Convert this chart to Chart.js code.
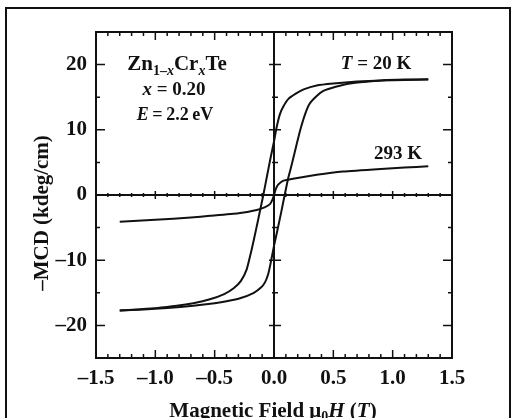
<!DOCTYPE html>
<html>
<head>
<meta charset="utf-8">
<script src="https://cdn.jsdelivr.net/npm/chart.js@4.4.1/dist/chart.umd.min.js"></script>
<style>
  html, body { margin: 0; padding: 0; background: #fff; }
  #wrap { width: 512px; height: 418px; position: relative; }
</style>
</head>
<body>
<div id="wrap"><canvas id="mcd"></canvas></div>
<script>
// 20 K loop, field sweeping down (upper branch)
const field20Down = [1.30, 1.10, 0.90, 0.70, 0.50, 0.36, 0.25, 0.18, 0.12, 0.08, 0.05, 0.02, 0.00, -0.03, -0.06, -0.09, -0.12, -0.15, -0.19, -0.23, -0.28, -0.34, -0.42, -0.54, -0.68, -0.82, -1.00, -1.15, -1.30];
const mcd20Down = [17.7, 17.65, 17.55, 17.4, 17.1, 16.8, 16.2, 15.5, 14.7, 13.6, 12.4, 10.2, 8.2, 5.6, 2.8, 0.0, -2.6, -5.2, -8.5, -11.4, -13.2, -14.3, -15.2, -16.0, -16.6, -17.0, -17.35, -17.55, -17.7];
// 20 K loop, field sweeping up (lower branch)
const field20Up = [-1.30, -1.10, -0.90, -0.68, -0.50, -0.40, -0.28, -0.17, -0.11, -0.076, -0.05, -0.03, 0.00, 0.03, 0.06, 0.09, 0.12, 0.15, 0.19, 0.22, 0.26, 0.30, 0.36, 0.42, 0.52, 0.64, 0.80, 0.92, 1.10, 1.30];
const mcd20Up = [-17.7, -17.55, -17.35, -17.0, -16.6, -16.3, -15.8, -15.0, -14.2, -13.4, -12.2, -10.6, -7.8, -5.3, -2.7, 0.0, 2.6, 4.7, 7.7, 9.9, 12.3, 14.0, 15.2, 16.0, 16.6, 17.1, 17.4, 17.6, 17.7, 17.75];
// 293 K
const field293 = [-1.30, -1.00, -0.70, -0.54, -0.30, -0.146, -0.08, -0.034, -0.015, 0.00, 0.015, 0.035, 0.08, 0.16, 0.36, 0.58, 0.90, 1.10, 1.30];
const mcd293 = [-4.1, -3.8, -3.45, -3.2, -2.8, -2.3, -1.9, -1.4, -0.8, 0.0, 0.9, 1.6, 2.2, 2.5, 3.1, 3.6, 4.0, 4.2, 4.4];

const xTicks = [-1.5, -1.0, -0.5, 0.0, 0.5, 1.0, 1.5];
const yTicks = [-20, -10, 0, 10, 20];

const FONT = "'Liberation Serif', 'Times New Roman', serif";

function pts(xs, ys) {
    return xs.map((x, i) => ({ x: x, y: ys[i] }));
}

function fmtX(v) {
    const s = Math.abs(v).toFixed(1);
    return v < 0 ? "\u2013" + s : s;
}
function fmtY(v) {
    return v < 0 ? "\u2013" + Math.abs(v) : String(v);
}

// draw a list of text runs on one baseline
function drawRuns(ctx, runs, x, y, align) {
    let w = 0;
    runs.forEach((r) => { ctx.font = r.font; w += ctx.measureText(r.t).width; });
    let cx = align === "center" ? x - w / 2 : x;
    ctx.textAlign = "left";
    ctx.textBaseline = "alphabetic";
    runs.forEach((r) => {
        ctx.font = r.font;
        ctx.fillText(r.t, cx, y + (r.dy || 0));
        cx += ctx.measureText(r.t).width;
    });
}

const framePlugin = {
    id: "frame",
    beforeDatasetsDraw(chart) {
        const { ctx, chartArea: a, scales: { x, y } } = chart;
        const x0 = x.getPixelForValue(0), y0 = y.getPixelForValue(0);
        ctx.save();
        ctx.strokeStyle = "#111";
        ctx.lineWidth = 2;
        ctx.beginPath();
        ctx.moveTo(a.left, y0); ctx.lineTo(a.right, y0);
        ctx.moveTo(x0, a.top); ctx.lineTo(x0, a.bottom);
        ctx.stroke();
        ctx.lineWidth = 1.5;
        ctx.beginPath();
        // ticks on the zero lines
        for (let i = -14; i <= 14; i++) {
            const px = x.getPixelForValue(i / 10);
            const len = i % 5 === 0 ? 4 : 2;
            ctx.moveTo(px, y0 - len); ctx.lineTo(px, y0 + len);
        }
        for (let v = -20; v <= 20; v += 5) {
            if (v === 0) continue;
            const py = y.getPixelForValue(v);
            const len = v % 10 === 0 ? 5 : 2;
            ctx.moveTo(x0 - len, py); ctx.lineTo(x0 + len + 2, py);
        }
        ctx.stroke();
        ctx.restore();
    },
    afterDatasetsDraw(chart) {
        const { ctx, chartArea: a, scales: { x, y } } = chart;
        ctx.save();
        ctx.strokeStyle = "#111";
        ctx.lineWidth = 2;
        ctx.strokeRect(a.left, a.top, a.right - a.left, a.bottom - a.top);
        // outer figure frame
        ctx.beginPath();
        ctx.moveTo(6, 420); ctx.lineTo(6, 8); ctx.lineTo(510, 8); ctx.lineTo(510, 420);
        ctx.stroke();
        ctx.lineWidth = 1.5;
        ctx.beginPath();
        for (let i = -14; i <= 14; i++) {
            const px = x.getPixelForValue(i / 10);
            const len = i % 5 === 0 ? 8 : 4;
            ctx.moveTo(px, a.bottom); ctx.lineTo(px, a.bottom - len);
            ctx.moveTo(px, a.top); ctx.lineTo(px, a.top + len);
        }
        for (let v = -20; v <= 20; v += 5) {
            const py = y.getPixelForValue(v);
            const len = v % 10 === 0 ? 9 : 4;
            ctx.moveTo(a.left, py); ctx.lineTo(a.left + len, py);
            ctx.moveTo(a.right, py); ctx.lineTo(a.right - len, py);
        }
        ctx.stroke();

        ctx.fillStyle = "#111";
        const b = (s) => "bold " + s + "px " + FONT;
        const bi = (s) => "italic bold " + s + "px " + FONT;
        // axis titles
        drawRuns(ctx, [
            { t: "Magnetic Field ", font: b(21) },
            { t: "\u03bc", font: b(21) },
            { t: "0", font: b(14), dy: 4 },
            { t: "H", font: bi(21) },
            { t: " (", font: b(21) },
            { t: "T", font: bi(21) },
            { t: ")", font: b(21) },
        ], 273, 417, "center");
        ctx.save();
        ctx.translate(48, 213);
        ctx.rotate(-Math.PI / 2);
        drawRuns(ctx, [{ t: "\u2013MCD (kdeg/cm)", font: b(21) }], 0, 0, "center");
        ctx.restore();
        // annotations
        drawRuns(ctx, [
            { t: "Zn", font: b(21) },
            { t: "1\u2013", font: b(14), dy: 5 },
            { t: "x", font: bi(14), dy: 5 },
            { t: "Cr", font: b(21) },
            { t: "x", font: bi(14), dy: 5 },
            { t: "Te", font: b(21) },
        ], 177, 70, "center");
        drawRuns(ctx, [{ t: "x", font: bi(19) }, { t: " = 0.20", font: b(19) }], 174, 95, "center");
        drawRuns(ctx, [{ t: "E", font: bi(18) }, { t: "\u2009=\u20092.2\u2009eV", font: b(18) }], 175, 120, "center");
        drawRuns(ctx, [{ t: "T", font: bi(19) }, { t: " = 20 K", font: b(19) }], 376, 69, "center");
        drawRuns(ctx, [{ t: "293 K", font: b(19) }], 398, 159, "center");
        ctx.restore();
    },
};

const line = (data) => ({
    data: data,
    showLine: true,
    borderColor: "#111",
    borderWidth: 2,
    pointRadius: 0,
    tension: 0.15,
    fill: false,
});

new Chart(document.getElementById("mcd"), {
    type: "scatter",
    data: {
        datasets: [
            line(pts(field20Down, mcd20Down)),
            line(pts(field20Up, mcd20Up)),
            line(pts(field293, mcd293)),
        ],
    },
    options: {
        responsive: true,
        maintainAspectRatio: false,
        animation: false,
        devicePixelRatio: 1,
        layout: { padding: { left: 0, right: 60, top: 32, bottom: 0 } },
        plugins: { legend: { display: false }, tooltip: { enabled: false } },
        scales: {
            x: {
                type: "linear",
                min: -1.5, max: 1.5,
                afterBuildTicks: (s) => { s.ticks = xTicks.map((v) => ({ value: v })); },
                afterFit: (s) => { s.height = 60; },
                grid: { display: false, drawTicks: false },
                border: { display: false },
                ticks: {
                    color: "#111",
                    padding: 8,
                    maxRotation: 0,
                    autoSkip: false,
                    font: { family: FONT, size: 21, weight: "bold" },
                    callback: (v) => fmtX(v),
                },
            },
            y: {
                type: "linear",
                min: -25, max: 25,
                afterBuildTicks: (s) => { s.ticks = yTicks.map((v) => ({ value: v })); },
                afterFit: (s) => { s.width = 96; },
                grid: { display: false, drawTicks: false },
                border: { display: false },
                ticks: {
                    color: "#111",
                    padding: 9,
                    autoSkip: false,
                    font: { family: FONT, size: 21, weight: "bold" },
                    callback: (v) => fmtY(v),
                },
            },
        },
    },
    plugins: [framePlugin],
});
</script>
</body>
</html>
